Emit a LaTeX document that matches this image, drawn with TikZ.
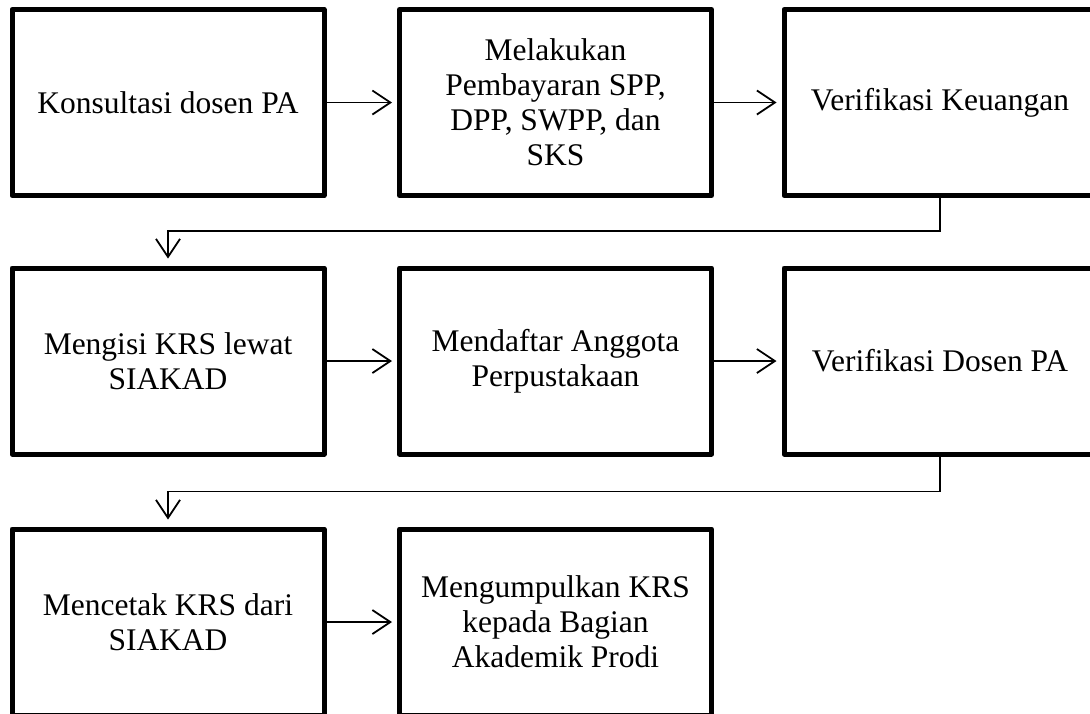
\documentclass[tikz,border=0pt]{standalone}
\usepackage{fontspec}
\setmainfont{Liberation Serif}
\usetikzlibrary{arrows.meta,positioning}

\begin{document}
\begin{tikzpicture}[x=1pt,y=1pt,
  stepbox/.style={draw, line width=5pt, line join=round,
    minimum width=312pt, minimum height=186pt, inner sep=0pt,
    align=center, font=\fontsize{31.5}{35}\selectfont},
  flow/.style={line width=1.8pt,
    -{Straight Barb[length=18pt,width=24pt,line width=1.8pt]}},
]
\useasboundingbox (0,0) rectangle (1090,-713);

% row 1
\node[stepbox] (b1) at (168,-102.5) {Konsultasi dosen PA};
\node[stepbox] (b2) at (555.5,-102.5) {Melakukan\\Pembayaran SPP,\\DPP, SWPP, dan\\SKS};
\node[stepbox] (b3) at (940,-102.5) {Verifikasi Keuangan};
% row 2
\node[stepbox] (b4) at (168,-361) {Mengisi KRS lewat\\SIAKAD};
\node[stepbox] (b5) at (555.5,-361) {Mendaftar Anggota\\Perpustakaan};
\node[stepbox] (b6) at (940,-361) {Verifikasi Dosen PA};
% row 3
\node[stepbox] (b7) at (168,-622) {Mencetak KRS dari\\SIAKAD};
\node[stepbox] (b8) at (555.5,-622) {Mengumpulkan KRS\\kepada Bagian\\Akademik Prodi};

% connectors
\draw[flow, shorten >=5pt] (b1.east) -- (b2.west);
\draw[flow, shorten >=5pt] (b2.east) -- (b3.west);
\draw[flow, shorten >=7pt] (b3.south) |- (168,-231) -- (b4.north);
\draw[flow, shorten >=5pt] (b4.east) -- (b5.west);
\draw[flow, shorten >=5pt] (b5.east) -- (b6.west);
\draw[flow, shorten >=7pt] (b6.south) |- (168,-491.5) -- (b7.north);
\draw[flow, shorten >=5pt] (b7.east) -- (b8.west);
\end{tikzpicture}
\end{document}
